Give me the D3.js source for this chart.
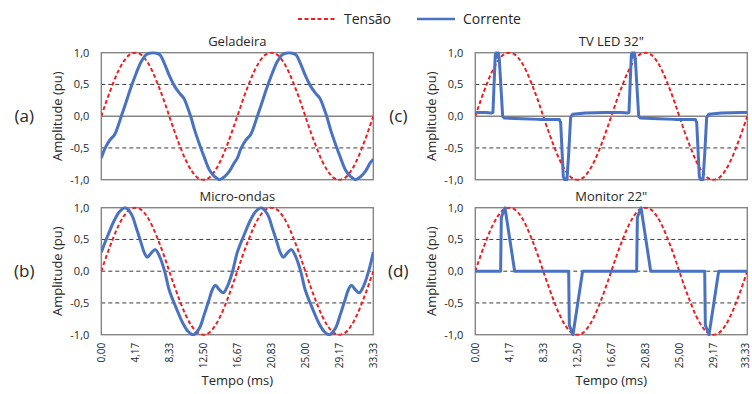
<!DOCTYPE html>
<html>
<head>
<meta charset="utf-8">
<script src="https://cdn.jsdelivr.net/npm/d3@7"></script>
<style>
  body { margin: 0; background: #fff; }
  svg text { font-family: "Open Sans", "Noto Sans", sans-serif; fill: #262626; }
</style>
</head>
<body>
<svg id="chart" width="752" height="394"></svg>
<script>
// Time axis (ms) and amplitude axis (pu)
const tempoTicks = [0, 4.17, 8.33, 12.5, 16.67, 20.83, 25, 29.17, 33.33];
const tempoLabels = ["0,00", "4,17", "8,33", "12,50", "16,67", "20,83", "25,00", "29,17", "33,33"];
const ampTicks = [1, 0.5, 0, -0.5, -1];
const ampLabels = ["1,0", "0,5", "0,0", "-0,5", "-1,0"];

// Supply voltage (same in every panel)
const tensaoT = [0, 0.69, 1.39, 2.08, 2.78, 3.47, 4.17, 4.86, 5.56, 6.25, 6.94, 7.64, 8.33, 9.03, 9.72, 10.42,
  11.11, 11.81, 12.50, 13.19, 13.89, 14.58, 15.28, 15.97, 16.67, 17.36, 18.06, 18.75, 19.44, 20.14, 20.83,
  21.53, 22.22, 22.92, 23.61, 24.31, 25.00, 25.69, 26.39, 27.08, 27.78, 28.47, 29.17, 29.86, 30.56, 31.25,
  31.94, 32.64, 33.33];
const tensaoV = [0, 0.26, 0.5, 0.71, 0.87, 0.97, 1, 0.97, 0.87, 0.71, 0.5, 0.26, 0, -0.26, -0.5, -0.71,
  -0.87, -0.97, -1, -0.97, -0.87, -0.71, -0.5, -0.26, 0, 0.26, 0.5, 0.71, 0.87, 0.97, 1,
  0.97, 0.87, 0.71, 0.5, 0.26, 0, -0.26, -0.5, -0.71, -0.87, -0.97, -1, -0.97, -0.87, -0.71,
  -0.5, -0.26, 0];

// (a) Geladeira current
const geladeiraT = [0, 0.41, 1.02, 1.63, 2.04, 2.45, 3.06, 3.68, 4.29, 4.90, 5.51, 6.33, 7.15, 7.76, 8.37,
  8.99, 9.60, 10.13, 10.54, 10.95, 11.44, 12.05, 12.66, 13.27, 13.89, 14.50, 15.11, 15.73, 16.26,
  16.67, 17.08, 17.69, 18.30, 18.71, 19.12, 19.73, 20.35, 20.96, 21.57, 22.18, 23.00, 23.82, 24.43, 25.04,
  25.66, 26.27, 26.80, 27.21, 27.62, 28.11, 28.72, 29.33, 29.94, 30.56, 31.17, 31.78, 32.40, 32.93, 33.33];
const geladeiraI = [-0.66, -0.52, -0.38, -0.29, -0.16, 0, 0.23, 0.47, 0.68, 0.86, 0.97, 1.0, 0.97, 0.82, 0.63,
  0.47, 0.36, 0.28, 0.15, 0, -0.22, -0.45, -0.66, -0.85, -0.95, -1.0, -0.95, -0.86, -0.74,
  -0.66, -0.52, -0.38, -0.29, -0.16, 0, 0.23, 0.47, 0.68, 0.86, 0.97, 1.0, 0.97, 0.82, 0.63,
  0.47, 0.36, 0.28, 0.15, 0, -0.22, -0.45, -0.66, -0.85, -0.95, -1.0, -0.95, -0.86, -0.74, -0.68];

// (b) Micro-ondas current
const microT = [0, 0.82, 1.63, 2.25, 2.94, 3.68, 4.29, 4.82, 5.31, 5.64, 6.13, 6.62, 7.15, 7.76,
  8.33, 9.15, 9.96, 10.58, 11.27, 12.01, 12.62, 13.15, 13.64, 13.97, 14.46, 14.95, 15.48, 16.09,
  16.67, 17.49, 18.30, 18.92, 19.61, 20.35, 20.96, 21.49, 21.98, 22.31, 22.80, 23.29, 23.82, 24.43,
  25.00, 25.82, 26.63, 27.25, 27.94, 28.68, 29.29, 29.82, 30.31, 30.64, 31.13, 31.62, 32.15, 32.76, 33.33];
const microI = [0.30, 0.57, 0.81, 0.94, 1.00, 0.90, 0.68, 0.47, 0.28, 0.22, 0.29, 0.34, 0.23, 0,
  -0.30, -0.57, -0.81, -0.94, -1.00, -0.90, -0.68, -0.47, -0.28, -0.22, -0.29, -0.34, -0.23, 0,
  0.30, 0.57, 0.81, 0.94, 1.00, 0.90, 0.68, 0.47, 0.28, 0.22, 0.29, 0.34, 0.23, 0,
  -0.30, -0.57, -0.81, -0.94, -1.00, -0.90, -0.68, -0.47, -0.28, -0.22, -0.29, -0.34, -0.23, 0, 0.30];

// (c) TV LED 32" current
const tvT = [0, 1.23, 1.96, 2.16, 2.45, 2.57, 2.70, 2.82, 2.94, 3.35, 3.55, 5.72, 7.76, 10.29, 10.46, 10.78,
  10.95, 11.23, 11.44, 11.68, 11.93, 13.48, 15.93,
  16.67, 17.90, 18.63, 18.83, 19.12, 19.24, 19.37, 19.49, 19.61, 20.02, 20.22, 22.39, 24.43, 26.96, 27.13,
  27.45, 27.62, 27.90, 28.11, 28.35, 28.60, 30.15, 32.60, 33.33];
const tvI = [0.06, 0.06, 0.05, 0.06, 0.97, 1.0, 0.93, 1.0, 0.9, 0.0, -0.03, -0.04, -0.05, -0.05, -0.1, -0.95,
  -1.0, -1.0, -0.6, -0.02, 0.03, 0.05, 0.06,
  0.06, 0.06, 0.05, 0.06, 0.97, 1.0, 0.93, 1.0, 0.9, 0.0, -0.03, -0.04, -0.05, -0.05, -0.1,
  -0.95, -1.0, -1.0, -0.6, -0.02, 0.03, 0.05, 0.06, 0.06];

// (d) Monitor 22" current
const monitorT = [0, 3.10, 3.19, 3.64, 4.82, 11.44, 11.52, 11.97, 13.15, 19.77, 19.86, 20.31, 21.49,
  28.11, 28.19, 28.64, 29.82, 33.33];
const monitorI = [0, 0, 0.85, 1.0, 0, 0, -0.85, -1.0, 0, 0, 0.85, 1.0, 0, 0, -0.85, -1.0, 0, 0];

const RED = "#f01d23";
const BLUE = "#4a72c2";
const GRID = "#3a3a3a";
const FRAME = "#858585";

const svg = d3.select("#chart");
const SVG_W = 752;
const W = 272, H = 127;

const panels = [
  { title: "Geladeira", tag: "(a)", t: geladeiraT, i: geladeiraI, left: 101.3, top: 52.7, xAxis: false, zeroSolid: true, curve: d3.curveCatmullRom },
  { title: "Micro-ondas", tag: "(b)", t: microT, i: microI, left: 101.3, top: 207.7, xAxis: true, zeroSolid: false, curve: d3.curveCatmullRom },
  { title: "TV LED 32\"", tag: "(c)", t: tvT, i: tvI, left: 475.3, top: 52.7, xAxis: false, zeroSolid: true, curve: d3.curveLinear },
  { title: "Monitor 22\"", tag: "(d)", t: monitorT, i: monitorI, left: 475.3, top: 207.7, xAxis: true, zeroSolid: false, curve: d3.curveLinear }
];

const x = d3.scaleLinear().domain([0, 33.33]).range([0, W]);
const y = d3.scaleLinear().domain([-1, 1]).range([H, 0]);

panels.forEach((p, k) => {
  const g = svg.append("g").attr("transform", `translate(${p.left},${p.top})`);

  // dashed gridlines
  const gridVals = p.zeroSolid ? [0.5, -0.5] : [0.5, 0, -0.5];
  g.selectAll("line.grid").data(gridVals).join("line")
    .attr("class", "grid")
    .attr("x1", 0).attr("x2", W)
    .attr("y1", d => y(d)).attr("y2", d => y(d))
    .attr("stroke", GRID).attr("stroke-width", 1)
    .attr("stroke-dasharray", "4,3");

  if (p.zeroSolid) {
    g.append("line")
      .attr("x1", 0).attr("x2", W)
      .attr("y1", y(0)).attr("y2", y(0))
      .attr("stroke", FRAME).attr("stroke-width", 1.5);
  }

  // plot frame
  g.append("rect")
    .attr("x", 0).attr("y", 0).attr("width", W).attr("height", H)
    .attr("fill", "none").attr("stroke", FRAME).attr("stroke-width", 1.4);

  // y axis
  const ya = g.append("g").call(
    d3.axisLeft(y).tickValues(ampTicks).tickSize(0).tickPadding(12)
      .tickFormat(d => ampLabels[ampTicks.indexOf(d)])
  );
  ya.select(".domain").remove();
  ya.selectAll("text").style("font-size", "11px").attr("fill", "#262626");

  // x axis (bottom row only); the last label is nudged so it stays inside the page
  if (p.xAxis) {
    const xa = g.append("g").attr("transform", `translate(0,${H})`).call(
      d3.axisBottom(x).tickValues(tempoTicks).tickSize(0)
        .tickFormat(d => tempoLabels[tempoTicks.indexOf(d)])
    );
    xa.select(".domain").remove();
    xa.selectAll("text")
      .attr("transform", "rotate(-90)")
      .attr("x", -8).attr("y", 0)
      .attr("dy", d => (p.left + x(d) + 7 > SVG_W ? "0.08em" : "0.35em"))
      .style("text-anchor", "end").style("font-size", "10px").attr("fill", "#262626");

    g.append("text")
      .attr("x", W / 2).attr("y", H + 50)
      .attr("text-anchor", "middle").style("font-size", "13px")
      .text("Tempo (ms)");
  }

  // titles and labels
  g.append("text")
    .attr("x", W / 2).attr("y", -7)
    .attr("text-anchor", "middle").style("font-size", "13px")
    .text(p.title);

  g.append("text")
    .attr("transform", `translate(-44,${H / 2}) rotate(-90)`)
    .attr("dy", "0.35em")
    .attr("text-anchor", "middle").style("font-size", "13px")
    .text("Amplitude (pu)");

  g.append("text")
    .attr("x", -77).attr("y", H / 2).attr("dy", "0.35em")
    .attr("text-anchor", "middle").style("font-size", "17px")
    .text(p.tag);

  // series
  const clipId = "clip" + k;
  g.append("clipPath").attr("id", clipId)
    .append("rect").attr("x", 0).attr("y", -1.5).attr("width", W).attr("height", H + 3);

  const series = g.append("g").attr("clip-path", `url(#${clipId})`);

  const vLine = d3.line().x(d => x(d[0])).y(d => y(d[1])).curve(d3.curveCatmullRom);
  series.append("path")
    .datum(d3.zip(tensaoT, tensaoV))
    .attr("d", vLine)
    .attr("fill", "none").attr("stroke", RED).attr("stroke-width", 2)
    .attr("stroke-dasharray", "4,2.5");

  const iLine = d3.line().x(d => x(d[0])).y(d => y(d[1])).curve(p.curve);
  series.append("path")
    .datum(d3.zip(p.t, p.i))
    .attr("d", iLine)
    .attr("fill", "none").attr("stroke", BLUE).attr("stroke-width", 3)
    .attr("stroke-linejoin", "round");
});

// legend
const legend = svg.append("g");
const legendItems = [
  { name: "Tensão", color: RED, dash: "4,2.5", width: 2, x: 298 },
  { name: "Corrente", color: BLUE, dash: null, width: 2.5, x: 417 }
];
legendItems.forEach(it => {
  legend.append("line")
    .attr("x1", it.x).attr("x2", it.x + 38)
    .attr("y1", 19).attr("y2", 19)
    .attr("stroke", it.color).attr("stroke-width", it.width)
    .attr("stroke-dasharray", it.dash);
  legend.append("text")
    .attr("x", it.x + 46).attr("y", 19).attr("dy", "0.35em")
    .style("font-size", "14px")
    .text(it.name);
});
</script>
</body>
</html>
